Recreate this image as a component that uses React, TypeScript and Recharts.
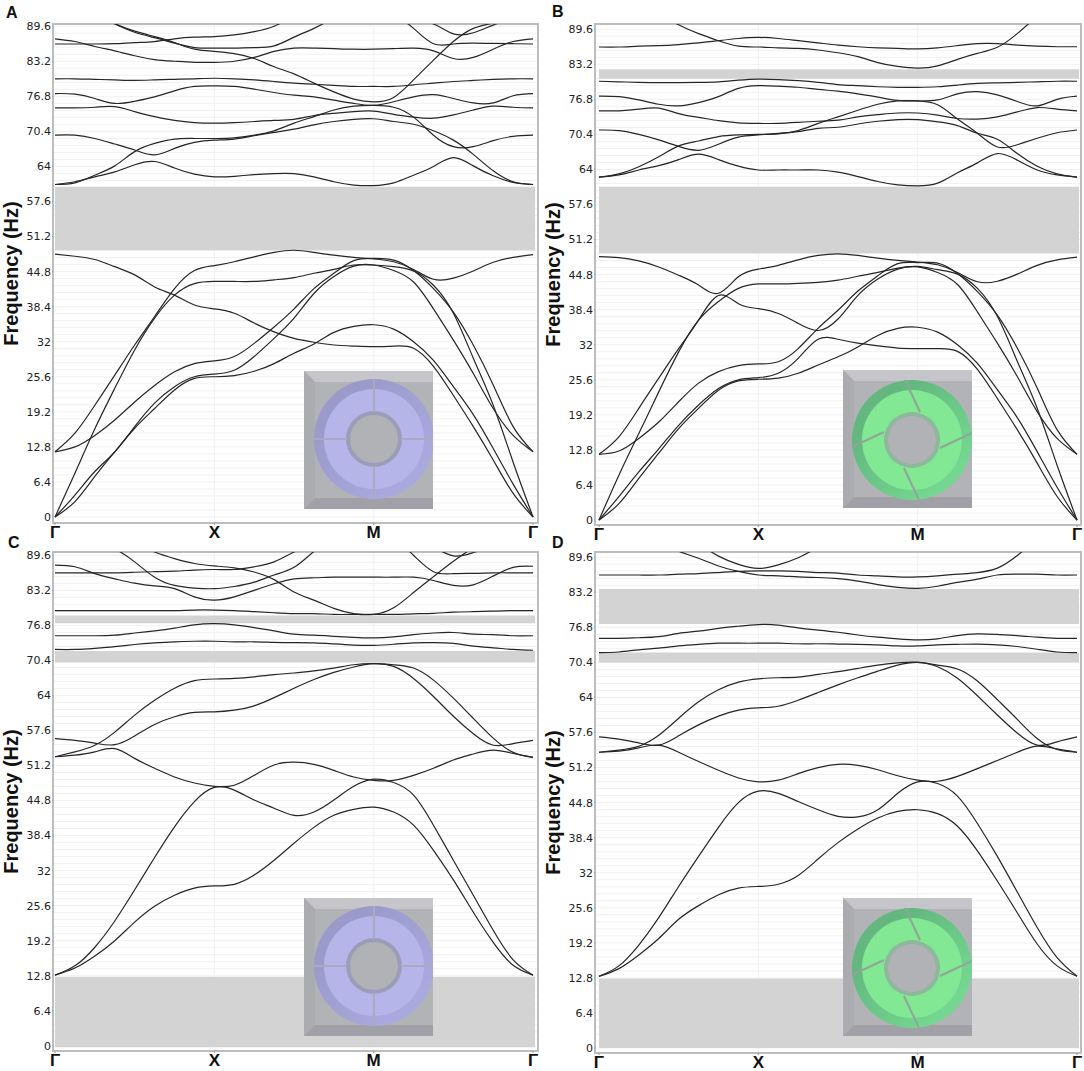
import React from 'react';
import {
  LineChart,
  Line,
  XAxis,
  YAxis,
  CartesianGrid,
  ReferenceArea,
} from 'recharts';

const pathPos = [0, 0.125, 0.25, 0.375, 0.5, 0.625, 0.75, 0.875, 1, 1.125, 1.25, 1.375, 1.5, 1.625, 1.75, 1.875, 2, 2.125, 2.25, 2.375, 2.5, 2.625, 2.75, 2.875, 3];
const xTicks = [0, 1, 2, 3];
const xLabels = ['Γ', 'X', 'M', 'Γ'];
const yTicks = [0, 6.4, 12.8, 19.2, 25.6, 32, 38.4, 44.8, 51.2, 57.6, 64, 70.4, 76.8, 83.2, 89.6];
const minorTicks = Array.from({ length: 71 }, (_, i) => Math.round(i * 128) / 100);

// panel A
const a1 = [11.9, 15.3, 20.4, 25.9, 31.4, 36.6, 41.7, 45, 45.9, 46.6, 47.5, 48.3, 48.7, 48.3, 47.8, 47.4, 47.1, 46.6, 45.2, 43.4, 43.6, 44.9, 46.5, 47.4, 47.9];
const a2 = [0, 8, 16.1, 23.5, 30.5, 36.3, 40.5, 42.6, 43, 43, 43, 43.3, 43.7, 44.5, 45.2, 46, 46, 45.7, 44.9, 42.3, 37.2, 29, 20.4, 10, 0];
const a3 = [11.9, 12.8, 14.9, 17.7, 21, 24, 26.5, 28, 28.5, 29.3, 31.7, 34.7, 38, 41.7, 44.5, 46.8, 47.2, 46.9, 45, 41.7, 37.4, 31.4, 24.1, 16.5, 11.9];
const a4 = [0, 4, 8.3, 11.9, 16.5, 20.8, 23.8, 25.6, 26.1, 26.8, 29.3, 32.6, 36.3, 40.8, 43.9, 45.8, 46, 45, 42.9, 38, 32.3, 26.2, 19.8, 14.9, 11.9];
const a5 = [0, 2.8, 7.4, 11.9, 16.2, 19.8, 23.2, 25.3, 25.6, 25.8, 26.6, 28, 29.9, 31.6, 33.7, 34.8, 35.1, 34.3, 32, 28.6, 23.8, 18.7, 12.5, 6, 0];
const a6 = [48, 47.6, 47, 45.7, 44.2, 42, 40.5, 38.7, 38, 37.2, 35.4, 33.8, 32.6, 31.9, 31.4, 31.2, 31.1, 31.2, 30.8, 27.5, 22.2, 16.5, 10.4, 4.3, 0];
const a7 = [60.7, 61.2, 62.1, 63, 64.3, 64.9, 63.7, 62.6, 62.1, 62.2, 62.5, 62.7, 62.7, 62.1, 61.2, 60.6, 60.5, 61, 62.4, 64, 65.6, 64.1, 62.3, 61.1, 60.7];
const a8 = [60.7, 61, 62.4, 64.1, 66.7, 68.2, 69, 69.1, 69.1, 69.2, 69.7, 70.5, 71.9, 73.1, 74.3, 75, 75.15, 74.8, 73, 69.7, 67.6, 67.6, 68.7, 69.5, 69.7];
const a9 = [69.7, 69.7, 69.1, 68.1, 67, 66.1, 67.3, 68.4, 68.8, 69, 69.6, 70.2, 70.8, 71.6, 72.2, 72.6, 72.7, 72.2, 71.7, 70.5, 68.8, 66.2, 63.2, 61.2, 60.7];
const a10 = [74.7, 74.7, 74.8, 74.9, 74, 73.1, 72.4, 72, 71.9, 72, 72.2, 72.4, 72.6, 73.3, 73.7, 74, 74.1, 73.5, 73, 72.8, 73.4, 74.3, 75, 74.8, 74.7];
const a11 = [77.3, 77.2, 76.4, 75.5, 75.9, 76.7, 77.8, 78.6, 78.7, 78.6, 78.1, 77.5, 77, 76.7, 76.1, 75.5, 75.15, 75.8, 76.7, 77.1, 76.4, 75.6, 75.6, 76.9, 77.3];
const a12 = [80, 80, 79.9, 79.8, 79.7, 79.8, 79.9, 80, 80.1, 80, 79.8, 79.5, 79.2, 79, 78.8, 78.6, 78.6, 78.6, 78.9, 79.2, 79.5, 79.7, 79.9, 80, 80];
const a13 = [87.3, 86.8, 85.9, 85.1, 84.2, 83.5, 83.2, 83, 83, 83.2, 83.9, 85, 85.6, 85.6, 85.5, 85.4, 85.4, 85.5, 85.6, 85.1, 83.7, 83.9, 85.4, 86.8, 87.3];
const a14 = [86.35, 86.35, 86.35, 86.4, 86.6, 86.8, 87.3, 87.6, 87.7, 88, 88.6, 89.6, 91.3, 92.5, 93.5, 94, 94, 93.5, 91, 90, 88.2, 88.4, 89.8, 91, 92];
const a15 = [94, 93, 92, 90.1, 88.7, 87.7, 86.6, 85.4, 85, 84.6, 83.7, 82.2, 80.9, 79.2, 77.6, 76.3, 75.8, 76.6, 79.8, 83.4, 86.8, 89.2, 90.2, 91.3, 92];
const a16 = [93.5, 92.6, 91.6, 90, 88.5, 87.5, 86.5, 85.7, 85.6, 85.6, 85.7, 86, 87.6, 89.2, 91, 92, 92.3, 91.6, 89.2, 86.4, 86.35, 86.5, 86.45, 86.4, 86.35];
const aBands = [a1, a2, a3, a4, a5, a6, a7, a8, a9, a10, a11, a12, a13, a14, a15, a16];
const aGaps = [[48.7, 60.3]];

// panel B
const b1 = [12, 15.2, 20.4, 25.9, 31.3, 36.5, 41, 39.5, 38.6, 37.7, 35.9, 34.6, 36.7, 41, 44, 45.8, 46.2, 45.2, 43, 38, 32.3, 26.2, 19.8, 14.9, 12];
const b2 = [48.07, 47.9, 47.3, 46.2, 44.7, 42.9, 41.4, 44.4, 45.8, 46.5, 47.5, 48.3, 48.6, 48.3, 47.8, 47.4, 47.1, 46.6, 45.2, 43.5, 43.6, 44.9, 46.5, 47.5, 48];
const b3 = [0, 8.2, 15.8, 23.4, 30.7, 36.5, 39.9, 42.3, 43.1, 43.1, 43.2, 43.4, 43.8, 44.5, 45.2, 46, 46.3, 45.7, 44.9, 42.3, 37.2, 29, 20.4, 10, 0];
const b4 = [12, 12.6, 14.9, 17.9, 21.6, 25, 27.1, 28.2, 28.5, 28.9, 31.3, 35, 38.3, 41.8, 44.6, 46.8, 47, 46.9, 45, 41.7, 37.4, 31.4, 24.1, 16.5, 12];
const b5 = [0, 4.3, 8.8, 13, 17.3, 21, 24, 25.6, 26, 26.8, 29.5, 33, 33, 32.3, 31.8, 31.4, 31.3, 31.3, 30.8, 27.5, 22.2, 16.5, 10.4, 4.3, 0];
const b6 = [0, 3, 7.6, 12.2, 16.7, 20.4, 23.7, 25.4, 25.7, 25.9, 26.8, 28.3, 29.8, 31.6, 33.7, 35, 35.2, 34.3, 32, 28.6, 23.8, 18.7, 12.5, 6, 0];
const b7 = [62.6, 63, 63.9, 64.7, 65.8, 66.8, 65.8, 64.6, 63.9, 63.9, 63.9, 63.9, 63.5, 62.7, 61.8, 61.2, 61, 61.5, 63.4, 65.2, 66.9, 65.7, 63.9, 63, 62.6];
const b8 = [62.6, 63.2, 64.5, 66.3, 68.3, 69.2, 70, 70.3, 70.4, 70.5, 71.1, 72.4, 73.6, 74.8, 75.9, 76.5, 76.5, 75.8, 73.2, 70.6, 68.1, 68.5, 69.7, 70.7, 71.2];
const b9 = [71.2, 71.1, 70.4, 69.4, 68.2, 67.5, 68.6, 69.9, 70.3, 70.6, 70.9, 71.5, 71.7, 72.3, 72.8, 73.1, 73.1, 72.7, 72, 70.6, 69.5, 66.9, 64.6, 63.2, 62.6];
const b10 = [74.7, 74.7, 75, 75.2, 74.2, 73.5, 72.9, 72.5, 72.4, 72.4, 72.6, 72.8, 73, 73.6, 74, 74.3, 74.3, 73.9, 73.3, 73.2, 73.6, 74.5, 75.3, 75, 74.7];
const b11 = [77.4, 77.3, 76.7, 75.9, 75.6, 76.2, 77.3, 78.8, 79.3, 79.2, 79, 78.6, 78.3, 77.8, 77.2, 76.6, 76.5, 76.7, 77.8, 78.2, 77.6, 76.4, 75.6, 76.8, 77.4];
const b12 = [80.1, 80, 79.9, 79.85, 79.85, 79.9, 80, 80.3, 80.5, 80.4, 80.2, 79.9, 79.5, 79.3, 79.1, 79, 79, 79.1, 79.4, 79.7, 79.8, 79.9, 80, 80.1, 80.1];
const b13 = [86.35, 86.35, 86.5, 86.6, 86.8, 87.1, 87.5, 87.9, 88.1, 87.9, 87.5, 87.1, 86.7, 86.4, 86.2, 86.1, 86, 86.2, 86.6, 86.95, 86.95, 86.7, 86.5, 86.4, 86.4];
const b14 = [96, 95, 94, 92.5, 90.4, 88.8, 87.5, 86.5, 86.35, 86.2, 86.1, 85.8, 85.3, 84.6, 83.5, 82.8, 82.5, 82.9, 84.1, 85.2, 86.3, 88.8, 92, 95, 96.7];
const bBands = [b1, b2, b3, b4, b5, b6, b7, b8, b9, b10, b11, b12, b13, b14];
const bGaps = [[48.7, 60.85], [80.56, 82.3]];

// panel C
const c1 = [12.9, 14.6, 18, 22.8, 28.5, 34.4, 40, 44.6, 47.2, 46.7, 44.9, 43.4, 42.1, 42.7, 44.9, 47.4, 48.7, 48.1, 45.8, 40.3, 33.9, 27.5, 21.1, 15.7, 12.9];
const c2 = [12.9, 14.2, 16.4, 19.2, 22.6, 25.5, 27.5, 28.8, 29.2, 29.5, 31.2, 33.9, 37, 39.9, 42.1, 43.2, 43.6, 42.7, 40.3, 35.7, 30.3, 24.4, 18.9, 14.7, 12.9];
const c3 = [52.8, 53.1, 53.7, 54.3, 52.5, 50.7, 49.1, 48, 47.4, 47.6, 49.4, 51.3, 51.8, 51.4, 50.3, 49.1, 48.5, 48.5, 49.4, 50.7, 52.2, 53.3, 54, 53.4, 52.7];
const c4 = [56.1, 55.8, 55.3, 55, 56.6, 58.7, 60.1, 60.9, 61, 61.3, 62.1, 63.6, 65.3, 66.9, 68.2, 69.2, 69.8, 69.3, 67.1, 63.8, 60.2, 57, 54.9, 55.2, 55.8];
const c5 = [52.8, 53.7, 54.9, 57.3, 60.4, 63.1, 65.3, 66.7, 67, 67.1, 67.4, 67.8, 68.1, 68.5, 69, 69.6, 69.8, 69.6, 69, 66.8, 63.5, 59.8, 56.2, 53.6, 52.7];
const c6 = [72.4, 72.4, 72.6, 72.9, 73.3, 73.6, 73.8, 73.9, 73.9, 73.8, 73.8, 73.7, 73.65, 73.6, 73.4, 73.2, 73.15, 73.35, 73.6, 73.65, 73.5, 73, 72.7, 72.4, 72.25];
const c7 = [74.9, 74.9, 74.9, 75, 75.4, 75.8, 76.3, 76.9, 77.1, 76.9, 76.4, 75.8, 75.2, 75, 74.8, 74.6, 74.5, 74.7, 75.1, 75.4, 75.5, 75.2, 75.1, 74.9, 74.9];
const c8 = [79.5, 79.5, 79.5, 79.5, 79.5, 79.5, 79.5, 79.6, 79.6, 79.5, 79.3, 79.1, 78.95, 78.95, 78.8, 78.8, 78.8, 78.8, 78.9, 79, 79.2, 79.3, 79.4, 79.5, 79.5];
const c9 = [87.8, 87.5, 86.25, 85.3, 84.5, 84, 83.5, 82, 81.4, 82, 83.2, 84.4, 85.3, 85.5, 85.6, 85.6, 85.6, 85.6, 85.6, 85, 84.1, 84.2, 85.8, 87.4, 87.6];
const c10 = [86.4, 86.4, 86.4, 86.4, 86.5, 86.6, 86.7, 86.9, 87, 87, 87.5, 88.4, 90.2, 91.7, 93, 93.5, 93.9, 93.5, 92.5, 91.1, 89.5, 90.1, 91.1, 91.7, 92.3];
const c11 = [95.5, 94, 92.5, 90.8, 88.4, 85.6, 84.1, 83.6, 83.5, 83.9, 84.7, 86, 87.4, 90.3, 92.6, 93.9, 94.2, 92.6, 89.6, 86.6, 86.25, 86.3, 86.4, 86.4, 86.4];
const c12 = [97, 96, 94.5, 93, 91.8, 90.2, 89, 88.1, 87.65, 87.3, 86.55, 85.15, 82.9, 81.4, 79.9, 78.95, 78.8, 80, 82.8, 85.7, 88.5, 91, 93, 94, 94.5];
const cBands = [c1, c2, c3, c4, c5, c6, c7, c8, c9, c10, c11, c12];
const cGaps = [[-0.25, 12.6], [70, 72.1], [77.2, 78.6]];

// panel D
const d1 = [13.1, 15, 18.8, 23.8, 29.5, 35, 40.3, 44.8, 46.9, 46.5, 45, 43.5, 42.3, 42.2, 43.5, 46.5, 48.6, 48.3, 46, 41, 35, 28.5, 22, 16.5, 13.1];
const d2 = [13.1, 14.5, 17, 20, 23.5, 26, 28, 29.2, 29.5, 29.9, 31.5, 34.5, 37.5, 40, 42, 43.2, 43.5, 42.8, 40.5, 36, 30.5, 24.7, 19, 15, 13.1];
const d3 = [54, 54.2, 54.8, 55.3, 54, 52.3, 50.7, 49.3, 48.6, 48.9, 50.1, 51.2, 51.8, 51.6, 50.8, 49.7, 48.9, 48.7, 49.6, 51, 52.5, 54, 55.1, 54.6, 54];
const d4 = [56.8, 56.4, 55.7, 55.3, 57, 59, 60.6, 61.7, 62.1, 62.4, 63.5, 64.9, 66.3, 67.6, 68.8, 69.9, 70.4, 69.6, 67.5, 64.3, 60.8, 57.5, 55.3, 55.9, 56.8];
const d5 = [54, 54.4, 55.1, 57.1, 60.2, 63.2, 65.4, 66.8, 67.4, 67.6, 67.7, 68.2, 68.7, 69.3, 69.9, 70.3, 70.4, 69.9, 69.2, 67, 63.6, 60, 56.5, 54.5, 54];
const d6 = [72.2, 72.3, 72.7, 73, 73.4, 73.7, 73.9, 73.9, 73.9, 73.9, 73.8, 73.8, 73.75, 73.7, 73.6, 73.4, 73.4, 73.6, 73.7, 73.75, 73.6, 73.3, 72.8, 72.3, 72.2];
const d7 = [74.8, 74.8, 74.9, 75.1, 75.7, 76.1, 76.6, 77, 77.3, 77.2, 76.7, 76.3, 75.9, 75.4, 75, 74.7, 74.5, 74.7, 75.3, 75.6, 75.5, 75.3, 75, 74.8, 74.8];
const d8 = [86.35, 86.35, 86.35, 86.35, 86.5, 86.6, 86.8, 87, 87.1, 87.1, 87, 86.8, 86.7, 86.35, 86.2, 86, 86, 86.2, 86.5, 86.8, 87.6, 89.9, 92.7, 94.2, 95.5];
const d9 = [97, 96, 94.6, 92.6, 90.7, 89.4, 88, 87, 86.35, 86.2, 86, 85.9, 85.7, 85.25, 84.6, 84.1, 83.9, 84.3, 85, 85.6, 86.35, 86.5, 86.5, 86.35, 86.35];
const d10 = [99, 98, 96.5, 95, 94.2, 92.1, 89.8, 88.3, 87.55, 88.2, 89.5, 91.5, 93.6, 94.5, 95, 95.5, 95.5, 95.5, 95.5, 95.5, 96, 96, 96.5, 97, 97];
const dBands = [d1, d2, d3, d4, d5, d6, d7, d8, d9, d10];
const dGaps = [[0, 12.7], [70.4, 72.2], [77.4, 83.8]];

const toRows = (bands: number[][]) =>
  pathPos.map((x, i) => {
    const row: Record<string, number> = { x };
    bands.forEach((b, k) => {
      row[`b${k}`] = b[i];
    });
    return row;
  });

const Panel = ({ left, top, width, height, plotTop, plotBottom, yDomain, xDomain, bands, gaps }: any) => {
  const data = toRows(bands);
  return (
    <div style={{ position: 'absolute', left, top }}>
      <LineChart
        width={width}
        height={height}
        data={data}
        margin={{ top: plotTop, right: 2, bottom: 0, left: 0 }}
      >
        <CartesianGrid
          stroke="#f1f1f1"
          strokeWidth={1}
          horizontalValues={minorTicks}
          verticalValues={[1, 2]}
        />
        <XAxis
          type="number"
          dataKey="x"
          domain={xDomain}
          allowDataOverflow
          ticks={xTicks}
          interval={0}
          tickFormatter={(_: number, i: number) => xLabels[i]}
          tick={{ fontFamily: 'Liberation Sans', fontWeight: 700, fontSize: 17, fill: '#111' }}
          tickLine={{ stroke: '#999' }}
          tickSize={2}
          tickMargin={1}
          axisLine={false}
          height={height - plotBottom}
        />
        <YAxis
          type="number"
          domain={yDomain}
          allowDataOverflow
          ticks={yTicks}
          interval={0}
          width={53}
          tick={{ fontFamily: 'DejaVu Sans', fontSize: 11, fill: '#222' }}
          tickLine={{ stroke: '#999' }}
          tickSize={1}
          tickMargin={1}
          axisLine={false}
          label={{
            value: 'Frequency (Hz)',
            angle: -90,
            position: 'insideLeft',
            offset: 0,
            dx: 11,
            dy: 0,
            style: { fontFamily: 'Liberation Sans', fontWeight: 700, fontSize: 20, fill: '#111', textAnchor: 'middle' },
          }}
        />
        <ReferenceArea
          x1={xDomain[0]}
          x2={xDomain[1]}
          y1={yDomain[0]}
          y2={yDomain[1]}
          fill="none"
          stroke="#bdbdbd"
          strokeWidth={2}
        />
        {gaps.map((g: number[], i: number) => (
          <ReferenceArea
            key={i}
            x1={0}
            x2={3.0126}
            y1={g[0]}
            y2={g[1]}
            fill="#d3d3d3"
            fillOpacity={1}
            stroke="none"
          />
        ))}
        {bands.map((_: number[], k: number) => (
          <Line
            key={k}
            type="natural"
            dataKey={`b${k}`}
            stroke="#262626"
            strokeWidth={1.2}
            dot={false}
            legendType="none"
            isAnimationActive={false}
          />
        ))}
      </LineChart>
    </div>
  );
};

// small picture of the unit cell, blue = straight slots, green = slanted slots
const UnitCell = ({ left, top, green }: any) => {
  const ringA = green ? '#63b77f' : '#9a9acb';
  const ringB = green ? '#74d690' : '#a9a9de';
  const face = green ? '#82e893' : '#b5b5ea';
  const hub = green ? '#8eb79c' : '#9c9cb9';
  const slot = green ? '#8fa79a' : '#a9a9c4';
  const cx = green ? 69 : 70;
  const cy = green ? 70 : 68;
  const id = green ? 'G' : 'B';
  const slotLine = green
    ? { x1: -7, y1: -60, x2: 8, y2: -28 }
    : { x1: 0, y1: -60, x2: 0, y2: -27 };
  return (
    <svg
      width={129}
      height={138}
      style={{ position: 'absolute', left, top }}
      viewBox="0 0 129 138"
    >
      <defs>
        <clipPath id={`clip${id}`}>
          <rect x={0} y={0} width={129} height={138} />
        </clipPath>
        <linearGradient id={`ring${id}`} x1="0" y1="0" x2="1" y2="1">
          <stop offset="25%" stopColor={ringA} />
          <stop offset="80%" stopColor={ringB} />
        </linearGradient>
      </defs>
      <rect x={0} y={0} width={129} height={138} fill="#b2b3b7" />
      <polygon points="0,0 129,0 129,11 11,11" fill="#c6c6ca" />
      <polygon points="0,0 11,11 11,127 0,138" fill="#abacb0" />
      <polygon points="0,138 11,127 129,127 129,138" fill="#a0a0a6" />
      <g clipPath={`url(#clip${id})`}>
        <circle cx={cx} cy={cy} r={60} fill={`url(#ring${id})`} />
        <circle cx={cx} cy={cy} r={50} fill={face} />
        <circle cx={cx} cy={cy} r={28} fill={hub} />
        <circle cx={cx} cy={cy} r={24} fill="#b0b2b5" />
        {[0, 90, 180, 270].map((a) => (
          <line
            key={a}
            {...slotLine}
            stroke={slot}
            strokeWidth={2}
            transform={`translate(${cx} ${cy}) rotate(${a})`}
          />
        ))}
      </g>
    </svg>
  );
};

const panelLetter = (left: number, top: number): React.CSSProperties => ({
  position: 'absolute',
  left,
  top,
  fontFamily: 'Liberation Sans',
  fontWeight: 700,
  fontSize: 16,
  lineHeight: '16px',
  color: '#111',
});

const App = () => {
  return (
    <div style={{ position: 'absolute', left: 0, top: 0, width: 1084, height: 1071, background: '#fff' }}>
      <Panel
        left={0}
        top={0}
        width={540}
        height={546}
        plotTop={24}
        plotBottom={523}
        yDomain={[-1.095, 90]}
        xDomain={[-0.0126, 3.031]}
        bands={aBands}
        gaps={aGaps}
      />
      <Panel
        left={542}
        top={0}
        width={541}
        height={546}
        plotTop={24}
        plotBottom={525}
        yDomain={[-0.9, 90.55]}
        xDomain={[-0.025, 3.025]}
        bands={bBands}
        gaps={bGaps}
      />
      <Panel
        left={0}
        top={530}
        width={540}
        height={541}
        plotTop={22}
        plotBottom={521}
        yDomain={[-0.95, 90.2]}
        xDomain={[-0.0126, 3.031]}
        bands={cBands}
        gaps={cGaps}
      />
      <Panel
        left={542}
        top={530}
        width={541}
        height={541}
        plotTop={22}
        plotBottom={523}
        yDomain={[-0.9, 90.55]}
        xDomain={[-0.025, 3.025]}
        bands={dBands}
        gaps={dGaps}
      />
      <UnitCell left={304} top={371} />
      <UnitCell left={843} top={370} green />
      <UnitCell left={304} top={898} />
      <UnitCell left={843} top={898} green />
      <div style={panelLetter(6, 5)}>A</div>
      <div style={panelLetter(552, 4)}>B</div>
      <div style={panelLetter(8, 535)}>C</div>
      <div style={panelLetter(552, 535)}>D</div>
    </div>
  );
};

export default App;
